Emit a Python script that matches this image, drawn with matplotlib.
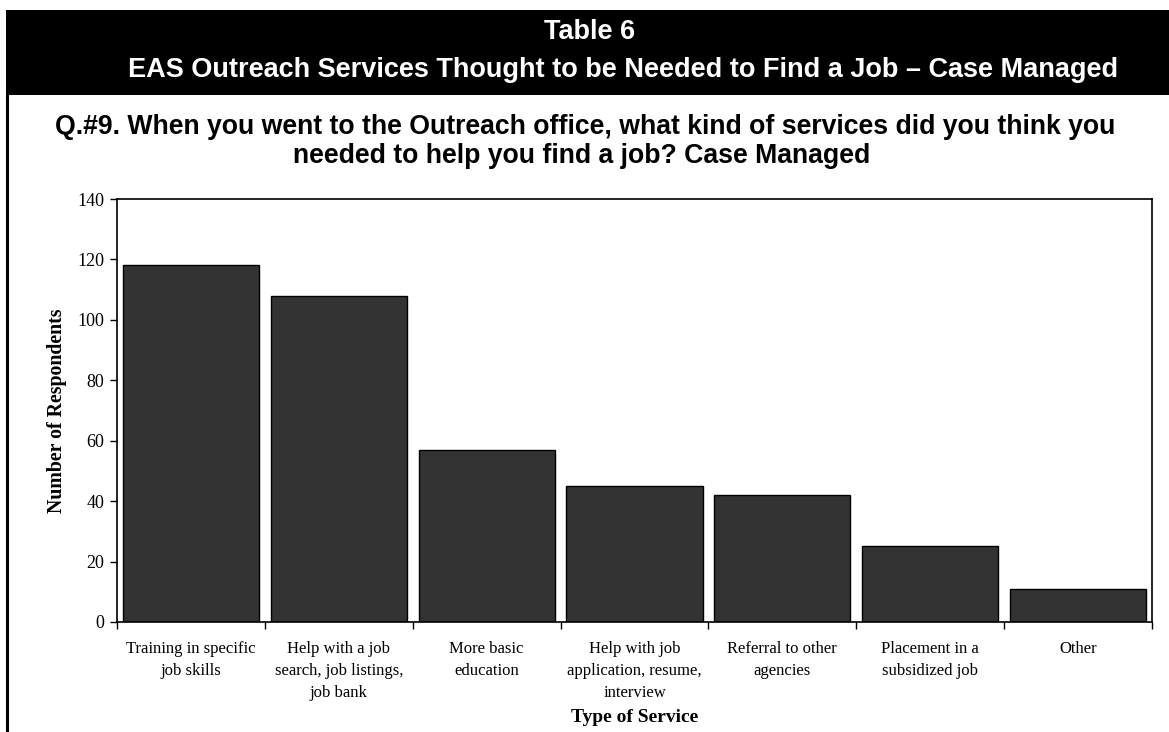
import matplotlib
matplotlib.use("Agg")
import matplotlib.pyplot as plt
from matplotlib.patches import Rectangle
from matplotlib.lines import Line2D
import numpy as np

# Survey responses: services thought to be needed (case managed)
categories = [
    "Training in specific\njob skills",
    "Help with a job\nsearch, job listings,\njob bank",
    "More basic\neducation",
    "Help with job\napplication, resume,\ninterview",
    "Referral to other\nagencies",
    "Placement in a\nsubsidized job",
    "Other",
]
respondents = [118, 108, 57, 45, 42, 25, 11]
y_ticks = [0, 20, 40, 60, 80, 100, 120, 140]

header_title = "Table 6"
header_subtitle = "EAS Outreach Services Thought to be Needed to Find a Job \u2013 Case Managed"
question_line1 = "Q.#9. When you went to the Outreach office, what kind of services did you think you"
question_line2 = "needed to help you find a job? Case Managed"

W, H = 1169, 732
fig = plt.figure(figsize=(W / 100, H / 100), dpi=100)
fig.patch.set_facecolor("white")

def fx(px):
    return px / W

def fy(py):
    return 1 - py / H

# Black header band
fig.patches.append(Rectangle((fx(6), fy(95)), fx(W - 6), (95 - 10) / H,
                             transform=fig.transFigure, facecolor="black",
                             edgecolor="none", zorder=0))
# Left page border below the band
fig.lines.append(Line2D([fx(7), fx(7)], [fy(95), 0], transform=fig.transFigure,
                        color="black", linewidth=2.2))

sans = ["Liberation Sans", "DejaVu Sans"]
serif = ["Liberation Serif", "DejaVu Serif"]

fig.text(fx(590), fy(32), header_title, color="white", fontsize=19.5,
         fontweight="bold", family=sans, ha="center", va="center")
fig.text(fx(623), fy(70), header_subtitle, color="white", fontsize=19.5,
         fontweight="bold", family=sans, ha="center", va="center")
fig.text(fx(585), fy(127), question_line1, color="black", fontsize=19.2,
         fontweight="bold", family=sans, ha="center", va="center")
fig.text(fx(582), fy(156), question_line2, color="black", fontsize=19.2,
         fontweight="bold", family=sans, ha="center", va="center")

# Plot area
left, right, top, bottom = 117, 1152, 199, 622
ax = fig.add_axes([fx(left), fy(bottom), (right - left) / W, (bottom - top) / H])

x = np.arange(len(categories))
ax.bar(x, respondents, width=0.92, color="#333333", edgecolor="black",
       linewidth=1.0, zorder=2)

ax.set_xlim(-0.5, len(categories) - 0.5)
ax.set_ylim(0, 140)
ax.set_yticks(y_ticks)
ax.set_yticklabels([str(v) for v in y_ticks], family=serif, fontsize=13)

# Tick marks at category boundaries, labels centred under bars
ax.set_xticks(np.arange(-0.5, len(categories), 1.0))
ax.set_xticklabels([])
ax.set_xticks(x, minor=True)
ax.set_xticklabels(categories, minor=True, family=serif, fontsize=12,
                   linespacing=1.5, va="top")
ax.tick_params(axis="x", which="minor", length=0, pad=14)
ax.tick_params(axis="x", which="major", direction="out", length=5, width=1)
ax.tick_params(axis="y", direction="out", length=5, width=1, pad=4)

for s in ax.spines.values():
    s.set_linewidth(1.2)
    s.set_color("black")

plot_w, plot_h = right - left, bottom - top
ax.set_ylabel("Number of Respondents", family=serif, fontsize=14.3,
              fontweight="bold", va="center")
ax.yaxis.set_label_coords((57 - left) / plot_w, 0.5)
ax.set_xlabel("Type of Service", family=serif, fontsize=14,
              fontweight="bold", va="center")
ax.xaxis.set_label_coords(0.5, -(717 - bottom) / plot_h)

fig.savefig("out.png", dpi=100, facecolor="white")
